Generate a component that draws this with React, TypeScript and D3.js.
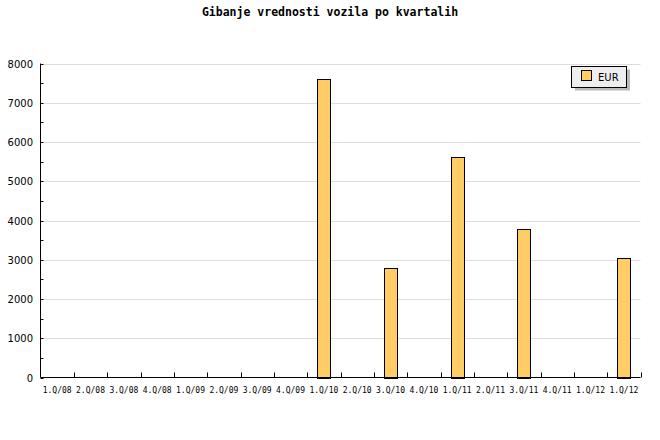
import React from "react";
import * as d3 from "d3";

const categories = [
  "1.Q/08", "2.Q/08", "3.Q/08", "4.Q/08",
  "1.Q/09", "2.Q/09", "3.Q/09", "4.Q/09",
  "1.Q/10", "2.Q/10", "3.Q/10", "4.Q/10",
  "1.Q/11", "2.Q/11", "3.Q/11", "4.Q/11",
  "1.Q/12", "1.Q/12",
];
const eurValues = [0, 0, 0, 0, 0, 0, 0, 0, 7600, 0, 2790, 0, 5610, 0, 3780, 0, 0, 3040];
const yTicks = [0, 1000, 2000, 3000, 4000, 5000, 6000, 7000, 8000];
const yMinorTicks = [500, 1500, 2500, 3500, 4500, 5500, 6500, 7500];
const title = "Gibanje vrednosti vozila po kvartalih";
const seriesName = "EUR";

export default function App() {
  const W = 660, H = 440;
  const left = 40.5, right = 640.5, top = 63.5, bottom = 377.5;
  const x = d3.scaleBand<number>().domain(d3.range(categories.length)).range([left, right]);
  const y = d3.scaleLinear().domain([0, 8000]).range([bottom, top]);
  const bw = 13;
  const mono = "'DejaVu Sans Mono', monospace";
  return (
    <svg width={W} height={H} style={{ position: "absolute", left: 0, top: 0, background: "#fff" }}>
      <text x={330} y={16} textAnchor="middle" fontFamily={mono} fontWeight="bold" fontSize={11.5}>{title}</text>
      {yTicks.slice(1).map((t) => (
        <line key={"g" + t} x1={left} x2={right} y1={Math.round(y(t)) + 0.5} y2={Math.round(y(t)) + 0.5} stroke="#dddddd" />
      ))}
      {eurValues.map((v, i) =>
        v > 0 ? (
          <rect key={i}
            x={Math.round(x(i)! + x.bandwidth() / 2 - bw / 2) + 0.5}
            y={Math.round(y(v)) + 0.5}
            width={bw}
            height={Math.round(y(0)) - Math.round(y(v))}
            fill="#ffcc66" stroke="#000" />
        ) : null
      )}
      <line x1={left} x2={left} y1={top} y2={bottom} stroke="#000" />
      <line x1={left} x2={right} y1={bottom} y2={bottom} stroke="#000" />
      {yTicks.map((t) => (
        <g key={"t" + t}>
          <line x1={left} x2={left + 3} y1={Math.round(y(t)) + 0.5} y2={Math.round(y(t)) + 0.5} stroke="#000" />
          <text x={33} y={y(t) + 4} textAnchor="end" fontFamily="'DejaVu Sans', sans-serif" fontSize={10}>{t}</text>
        </g>
      ))}
      {yMinorTicks.map((t) => (
        <line key={"m" + t} x1={left} x2={left + 3} y1={Math.round(y(t)) + 0.5} y2={Math.round(y(t)) + 0.5} stroke="#000" />
      ))}
      {categories.map((c, i) => (
        <g key={"c" + i}>
          <line x1={Math.round(x(i)! + x.bandwidth()) + 0.5} x2={Math.round(x(i)! + x.bandwidth()) + 0.5} y1={bottom} y2={bottom - 5} stroke="#000" />
          <text x={x(i)! + x.bandwidth() / 2} y={393} textAnchor="middle" fontFamily={mono} fontSize={8}>{c}</text>
        </g>
      ))}
      <rect x={575} y={69.5} width={55} height={21} fill="#bbbbbb" />
      <rect x={571.5} y={66.5} width={55} height={21} fill="#eeeeee" stroke="#000" />
      <rect x={581.5} y={70.5} width={10} height={10} fill="#ffcc66" stroke="#000" />
      <text x={598} y={81} fontFamily="'DejaVu Sans', sans-serif" fontSize={10}>{seriesName}</text>
    </svg>
  );
}
